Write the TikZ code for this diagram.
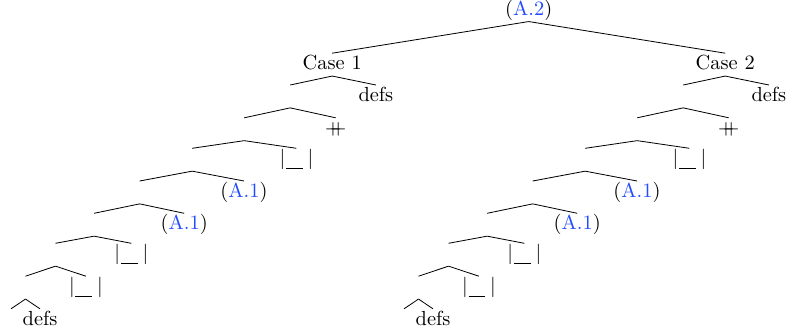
\documentclass[tikz,border=0pt]{standalone}
\usepackage{amsmath,amssymb}
\usepackage{tikz}
\usetikzlibrary{positioning}
\usepackage{xcolor}
\definecolor{LinkB}{RGB}{35,75,255}
\newcommand{\lref}[1]{({\color{LinkB}#1})}
\newcommand{\hole}{$|$\kern0.4pt\rule[-2.1pt]{8.2pt}{0.4pt}\hspace{2.4pt}$|$}
\newcommand{\pp}{$+\mkern-9.3mu+$}

\begin{document}
\begin{tikzpicture}[x=0.49pt,y=-0.49pt,
    tn/.style={anchor=north,inner sep=0.4pt,text height=7.5pt,text depth=2.5pt}]
  \useasboundingbox (0,0) rectangle (787,333);
  \node[tn] (root) at (528.7,-1.3) {\lref{A.2}};
  % the two cases have the same shape
  \foreach \s/\dx in {1/0,2/393}{
    \begin{scope}[shift={(\dx,0)}]
      \node[tn,alias=k\s-0] (c\s) at (332.2,53.2) {Case \s};
      \foreach \i/\kx/\ky/\rx/\lab in {1/290.2/85/375.9/defs,
                                       2/244.2/117.8/335.7/\pp,
                                       3/192.2/148.3/296.4/\hole,
                                       4/139.7/181/244.0/\lref{A.1},
                                       5/94.1/213.3/184.2/\lref{A.1},
                                       6/55.5/243.3/131.3/\hole,
                                       7/25.5/276.2/85.9/\hole,
                                       8/11.0/308.8/40.0/defs}{
        \pgfmathtruncatemacro\j{\i-1}
        \node[tn] (k\s-\i) at (\kx,\ky) {};
        \node[tn] (r\s-\i) at (\rx,\ky) {\lab};
        \draw (k\s-\j.south) -- (k\s-\i.north);
        \draw (k\s-\j.south) -- (r\s-\i.north);
      }
    \end{scope}
    \draw (root.south) -- (c\s.north);
  }
\end{tikzpicture}
\end{document}
